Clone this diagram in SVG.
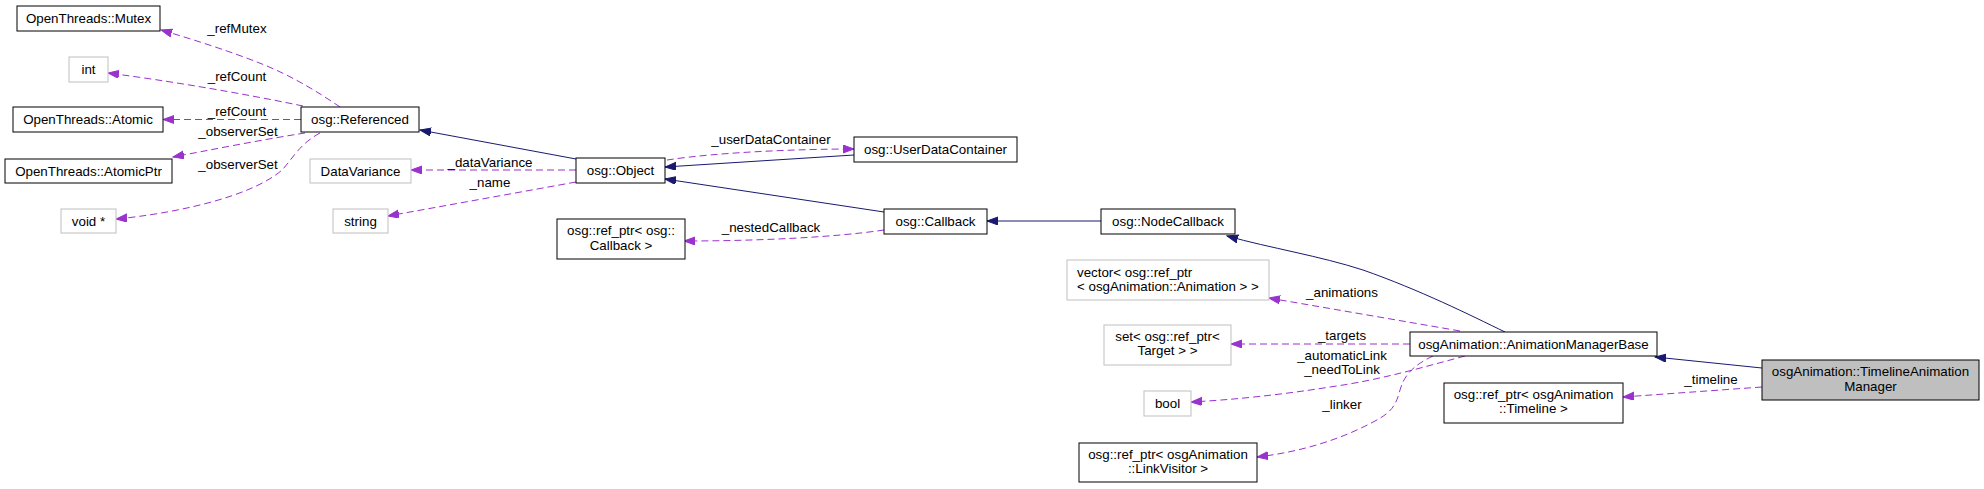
<svg xmlns="http://www.w3.org/2000/svg" width="1984" height="489" viewBox="0 0 1984 489">
<style>
text{font-family:"Liberation Sans",Arial,sans-serif;font-size:13.33px;fill:#000}
.n rect{fill:#fff;stroke:#000;stroke-width:1}
.g rect{fill:#fff;stroke:#bfbfbf;stroke-width:1}
.c{text-anchor:middle}
.inh{fill:none;stroke:#191970;stroke-width:1;marker-end:url(#ab)}
.use{fill:none;stroke:#9a32cd;stroke-width:1;stroke-dasharray:7,4;marker-end:url(#ap)}
</style>
<defs>
<marker id="ab" markerUnits="userSpaceOnUse" markerWidth="12" markerHeight="10" refX="11" refY="4" orient="auto"><path d="M0,0 L11,4 L0,8 z" fill="#191970" stroke="#191970"/></marker>
<marker id="ap" markerUnits="userSpaceOnUse" markerWidth="12" markerHeight="10" refX="11" refY="4" orient="auto"><path d="M0,0 L11,4 L0,8 z" fill="#9a32cd" stroke="#9a32cd"/></marker>
</defs>
<rect width="1984" height="489" fill="#fff"/>
<g id="connectors">
<path class="use" d="M340,107 C318,92 292,76 262,64 C232,52 195,40 161,30"/>
<path class="use" d="M303,106 C240,93 170,81 108,73"/>
<path class="use" d="M301,119.5 L163,119.5"/>
<path class="use" d="M305,133 C260,140 210,150 173,157"/>
<path class="use" d="M320,133 C298,145 292,160 282,170 C250,198 170,214 116,219"/>
<path class="inh" d="M576,159 L420,130"/>
<path class="use" d="M576,170 L411,170"/>
<path class="use" d="M576,182 L388,216"/>
<path class="use" d="M667,160 C720,152 800,149 854,149"/>
<path class="inh" d="M854,155 L665,167"/>
<path class="inh" d="M884,212 L665,179"/>
<path class="use" d="M884,230 C830,238 750,241 684,241"/>
<path class="inh" d="M1101,221 L987,221"/>
<path class="inh" d="M1505,332 C1470,315 1420,290 1363,270 C1320,256 1270,248 1227,236"/>
<path class="use" d="M1460,331 L1269,298"/>
<path class="use" d="M1410,344 L1231,344"/>
<path class="use" d="M1465,356 C1420,368 1380,380 1330,387 C1280,395 1230,400 1191,402"/>
<path class="use" d="M1433,356 C1412,366 1404,376 1400,390 C1396,405 1392,412 1375,421 C1340,440 1300,452 1257,457"/>
<path class="inh" d="M1762,368 L1655,357"/>
<path class="use" d="M1762,387 L1623,397"/>
<g class="c">
<text x="237" y="33">_refMutex</text>
<text x="237" y="81">_refCount</text>
<text x="237" y="116">_refCount</text>
<text x="238" y="136">_observerSet</text>
<text x="238" y="169">_observerSet</text>
<text x="771" y="144">_userDataContainer</text>
<text x="490" y="167">_dataVariance</text>
<text x="490" y="187">_name</text>
<text x="771" y="232">_nestedCallback</text>
<text x="1342" y="297">_animations</text>
<text x="1342" y="340">_targets</text>
<text x="1342" y="360">_automaticLink</text>
<text x="1342" y="374">_needToLink</text>
<text x="1342" y="409">_linker</text>
<text x="1711" y="384">_timeline</text>
</g>
</g>
<g id="n-mutex" class="n"><rect x="17" y="6" width="143" height="25"/><text class="c" x="88.5" y="22.5">OpenThreads::Mutex</text></g>
<g id="n-int" class="g"><rect x="69" y="57" width="39" height="25"/><text class="c" x="88.5" y="73.5">int</text></g>
<g id="n-atomic" class="n"><rect x="13" y="107" width="150" height="25"/><text class="c" x="88" y="123.5">OpenThreads::Atomic</text></g>
<g id="n-atomicptr" class="n"><rect x="5" y="159" width="167" height="24"/><text class="c" x="88.5" y="175.5">OpenThreads::AtomicPtr</text></g>
<g id="n-void" class="g"><rect x="61" y="209" width="55" height="24"/><text class="c" x="88.5" y="225.5">void *</text></g>
<g id="n-referenced" class="n"><rect x="301" y="107" width="118" height="25"/><text class="c" x="360" y="123.5">osg::Referenced</text></g>
<g id="n-datavariance" class="g"><rect x="310" y="159" width="101" height="24"/><text class="c" x="360.5" y="175.5">DataVariance</text></g>
<g id="n-string" class="g"><rect x="333" y="209" width="55" height="24"/><text class="c" x="360.5" y="225.5">string</text></g>
<g id="n-object" class="n"><rect x="576" y="158" width="89" height="25"/><text class="c" x="620.5" y="174.5">osg::Object</text></g>
<g id="n-refcallback" class="n"><rect x="557" y="219" width="128" height="40"/><text class="c" x="621" y="235">osg::ref_ptr&lt; osg::</text><text class="c" x="621" y="250">Callback &gt;</text></g>
<g id="n-udc" class="n"><rect x="854" y="137" width="163" height="25"/><text class="c" x="935.5" y="153.5">osg::UserDataContainer</text></g>
<g id="n-callback" class="n"><rect x="884" y="209" width="103" height="25"/><text class="c" x="935.5" y="225.5">osg::Callback</text></g>
<g id="n-nodecallback" class="n"><rect x="1101" y="209" width="134" height="25"/><text class="c" x="1168" y="225.5">osg::NodeCallback</text></g>
<g id="n-vector" class="g"><rect x="1067" y="260" width="202" height="40"/><text x="1077" y="277">vector&lt; osg::ref_ptr</text><text x="1077" y="291">&lt; osgAnimation::Animation &gt; &gt;</text></g>
<g id="n-set" class="g"><rect x="1104" y="325" width="127" height="40"/><text class="c" x="1167.5" y="341">set&lt; osg::ref_ptr&lt;</text><text class="c" x="1167.5" y="355">Target &gt; &gt;</text></g>
<g id="n-bool" class="g"><rect x="1144" y="391" width="47" height="25"/><text class="c" x="1167.5" y="407.5">bool</text></g>
<g id="n-linkvisitor" class="n"><rect x="1079" y="443" width="178" height="39"/><text class="c" x="1168" y="459">osg::ref_ptr&lt; osgAnimation</text><text class="c" x="1168" y="473">::LinkVisitor &gt;</text></g>
<g id="n-amb" class="n"><rect x="1410" y="332" width="247" height="24"/><text class="c" x="1533.5" y="348.5">osgAnimation::AnimationManagerBase</text></g>
<g id="n-timeline" class="n"><rect x="1444" y="383" width="179" height="40"/><text class="c" x="1533.5" y="399">osg::ref_ptr&lt; osgAnimation</text><text class="c" x="1533.5" y="413">::Timeline &gt;</text></g>
<g id="n-tam" class="n"><rect x="1762" y="360" width="217" height="40" style="fill:#bfbfbf"/><text class="c" x="1870.5" y="376">osgAnimation::TimelineAnimation</text><text class="c" x="1870.5" y="391">Manager</text></g>
</svg>
